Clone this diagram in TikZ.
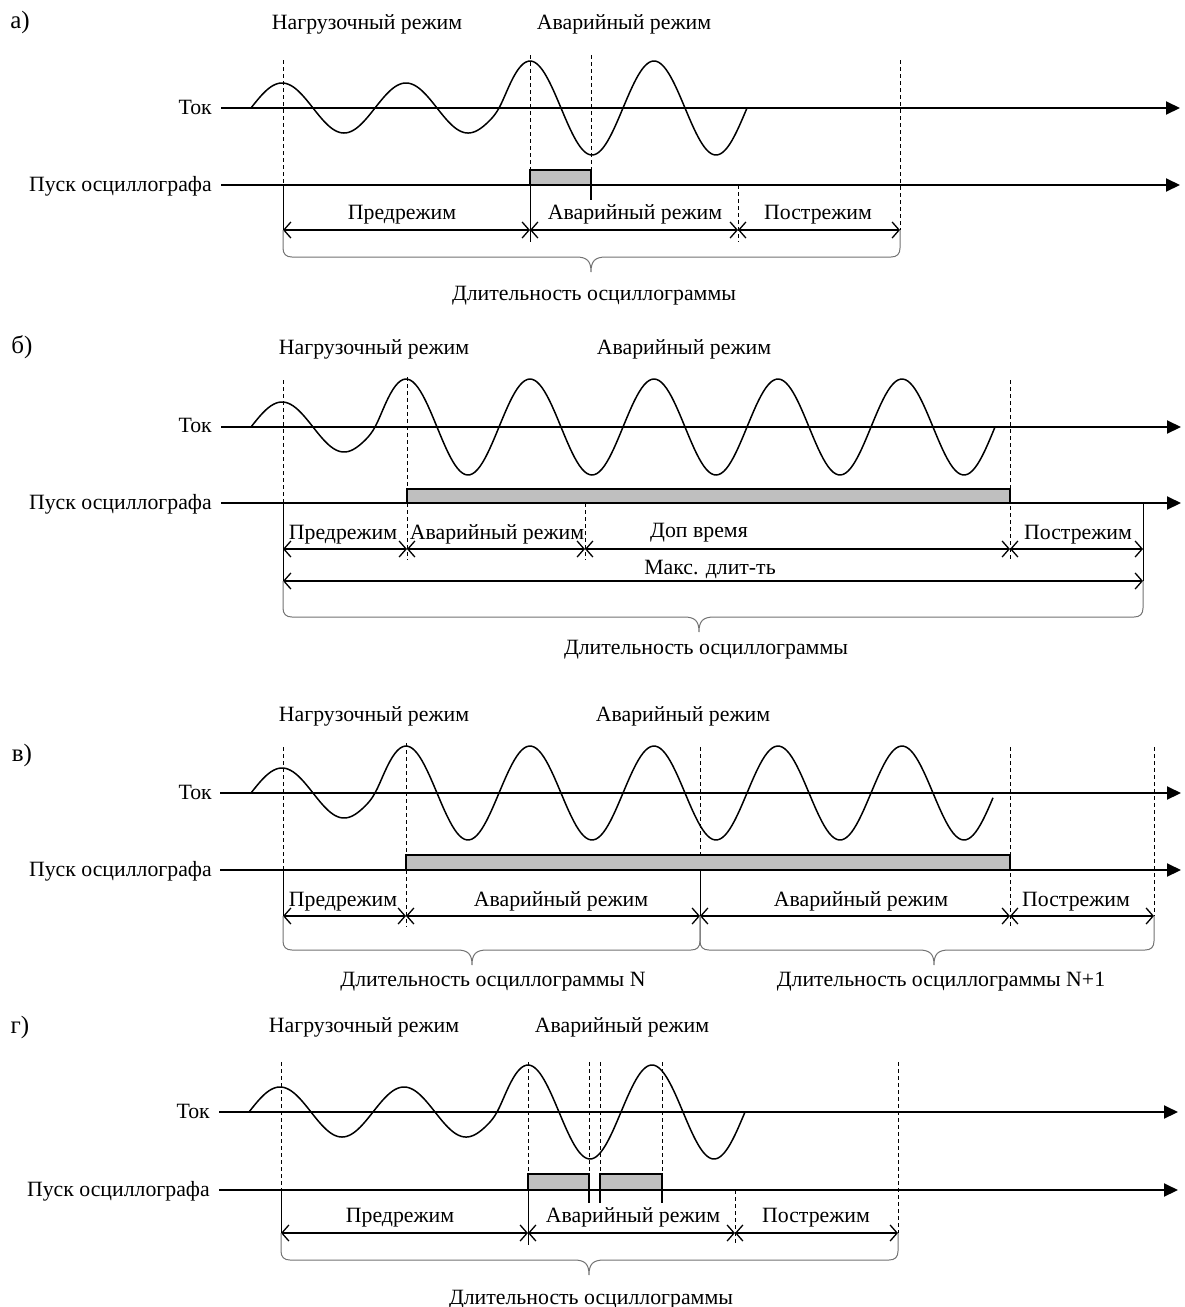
\documentclass[tikz,border=0pt]{standalone}
\usepackage{fontspec}
\setmainfont{Liberation Serif}
\usetikzlibrary{arrows.meta}
% start, end, phase origin, axis y, small amp, big amp, switch x
\newcommand{\mywave}[7]{\draw[wave] plot[domain=#1:#2, samples=300] (\x, {#4-(((#5)+(#6))/2+(((#6)-(#5))/2)*tanh(max(-4,min(4,(\x-#7)/9))))*sin((\x-#3)/62*180)});}
\newcommand{\mybrace}[5]{\draw[bracestyle] (#1,#4) -- (#1,#5-9) .. controls (#1,#5-3) and (#1+3,#5) .. (#1+9,#5) -- (#3-15,#5) .. controls (#3-4,#5) and (#3,#5+4) .. (#3,#5+15) .. controls (#3,#5+4) and (#3+4,#5) .. (#3+15,#5) -- (#2-9,#5) .. controls (#2-3,#5) and (#2,#5-3) .. (#2,#5-9) -- (#2,#4);}
\begin{document}
\begin{tikzpicture}[x=1pt,y=-1pt,
  lbl/.style={font=\fontsize{21.8}{25}\selectfont, inner sep=0pt, text height=18pt, text depth=3pt},
  plbl/.style={font=\fontsize{25}{28}\selectfont, inner sep=0pt, text height=19pt, text depth=3pt},
  axisline/.style={line width=2pt, -{Triangle[length=14pt,width=13pt]}},
  wave/.style={line width=1.5pt},
  guide/.style={dash pattern=on 4pt off 3pt, line width=0.8pt},
  stem/.style={line width=1pt},
  dimline/.style={line width=1.3pt, {Straight Barb[length=7pt,width=16pt]}-{Straight Barb[length=7pt,width=16pt]}},
  bracestyle/.style={line width=1pt, draw=black!55},
  trig/.style={fill=black!25, draw=black, line width=1.5pt},
  tickline/.style={line width=1.5pt}
]
\useasboundingbox[fill=white] (0,0) rectangle (1184,1307);

% ================= panel a =================
\node[plbl] (la) at (20,20) {а)};
\node[lbl] (aNag) at (367,22) {Нагрузочный режим};
\node[lbl] (aAv) at (624,22) {Аварийный режим};
\node[lbl, anchor=east] (aTok) at (212,107) {Ток};
\node[lbl, anchor=east] (aPusk) at (212,184) {Пуск осциллографа};
\draw[guide] (283,60) -- (283,185);
\draw[guide] (530,55) -- (530,185);
\draw[guide] (591,55) -- (591,170);
\draw[guide] (738,185) -- (738,242);
\draw[guide] (900,60) -- (900,230);
\draw[stem] (283,185) -- (283,230);
\draw[stem] (530,185) -- (530,242);
\draw[trig] (530,185) rectangle (591,170);
\draw[tickline] (591,185) -- (591,200);
\mywave{251}{747}{251}{108}{25}{47}{499}
\draw[axisline] (221,108) -- (1180,108);
\draw[axisline] (221,185) -- (1180,185);
\coordinate (a1) at (283,230); \coordinate (a2) at (530,230);
\coordinate (a3) at (738,230); \coordinate (a4) at (900,230);
\draw[dimline] (a1) -- (a2);
\draw[dimline] (a2) -- (a3);
\draw[dimline] (a3) -- (a4);
\node[lbl] (aPre) at (402,212) {Предрежим};
\node[lbl] (aAv2) at (635,212) {Аварийный режим};
\node[lbl] (aPost) at (818,212) {Пострежим};
\mybrace{283}{900}{591}{230}{257}
\node[lbl] (aDl) at (594,293) {Длительность осциллограммы};

% ================= panel b =================
\node[plbl] (lb) at (22,345) {б)};
\node[lbl] (bNag) at (374,347) {Нагрузочный режим};
\node[lbl] (bAv) at (684,347) {Аварийный режим};
\node[lbl, anchor=east] (bTok) at (212,425) {Ток};
\node[lbl, anchor=east] (bPusk) at (212,502) {Пуск осциллографа};
\draw[guide] (283,380) -- (283,503);
\draw[guide] (407,377) -- (407,489);
\draw[guide] (407,503) -- (407,560);
\draw[guide] (585,503) -- (585,560);
\draw[guide] (1010,380) -- (1010,560);
\draw[stem] (283,503) -- (283,581);
\draw[stem] (1143,503) -- (1143,581);
\draw[trig] (407,503) rectangle (1010,489);
\mywave{251}{995}{251}{427}{25}{48}{375}
\draw[axisline] (221,427) -- (1181,427);
\draw[axisline] (221,503) -- (1181,503);
\coordinate (b1) at (283,549); \coordinate (b2) at (407,549);
\coordinate (b3) at (585,549); \coordinate (b4) at (1010,549);
\coordinate (b5) at (1143,549);
\draw[dimline] (b1) -- (b2);
\draw[dimline] (b2) -- (b3);
\draw[dimline] (b3) -- (b4);
\draw[dimline] (b4) -- (b5);
\coordinate (b6) at (283,581); \coordinate (b7) at (1143,581);
\draw[dimline] (b6) -- (b7);
\node[lbl] (bPre) at (343,532) {Предрежим};
\node[lbl] (bAv2) at (497,532) {Аварийный режим};
\node[lbl] (bDop) at (699,530) {Доп время};
\node[lbl] (bPost) at (1078,532) {Пострежим};
\node[lbl] (bMax) at (710,567) {Макс. длит-ть};
\mybrace{283}{1143}{699}{581}{617}
\node[lbl] (bDl) at (706,647) {Длительность осциллограммы};

% ================= panel v =================
\node[plbl] (lv) at (22,753) {в)};
\node[lbl] (vNag) at (374,714) {Нагрузочный режим};
\node[lbl] (vAv) at (683,714) {Аварийный режим};
\node[lbl, anchor=east] (vTok) at (212,792) {Ток};
\node[lbl, anchor=east] (vPusk) at (212,869) {Пуск осциллографа};
\draw[guide] (283,747) -- (283,870);
\draw[guide] (406,743) -- (406,855);
\draw[guide] (406,870) -- (406,927);
\draw[guide] (700,747) -- (700,855);
\draw[guide] (1010,747) -- (1010,927);
\draw[guide] (1154,747) -- (1154,916);
\draw[stem] (283,870) -- (283,916);
\draw[stem] (700,870) -- (700,916);
\draw[trig] (406,870) rectangle (1010,855);
\mywave{251}{993}{251}{793}{25}{47}{375}
\draw[axisline] (220,793) -- (1181,793);
\draw[axisline] (220,870) -- (1181,870);
\coordinate (v1) at (283,916); \coordinate (v2) at (406,916);
\coordinate (v3) at (700,916); \coordinate (v4) at (1010,916);
\coordinate (v5) at (1154,916);
\draw[dimline] (v1) -- (v2);
\draw[dimline] (v2) -- (v3);
\draw[dimline] (v3) -- (v4);
\draw[dimline] (v4) -- (v5);
\node[lbl] (vPre) at (343,899) {Предрежим};
\node[lbl] (vAv2) at (561,899) {Аварийный режим};
\node[lbl] (vAv3) at (861,899) {Аварийный режим};
\node[lbl] (vPost) at (1076,899) {Пострежим};
\mybrace{283}{700}{472}{916}{950}
\mybrace{700}{1154}{934}{916}{950}
\node[lbl] (vDl1) at (493,979) {Длительность осциллограммы N};
\node[lbl] (vDl2) at (941,979) {Длительность осциллограммы N+1};

% ================= panel g =================
\node[plbl] (lg) at (20,1025) {г)};
\node[lbl] (gNag) at (364,1025) {Нагрузочный режим};
\node[lbl] (gAv) at (622,1025) {Аварийный режим};
\node[lbl, anchor=east] (gTok) at (210,1111) {Ток};
\node[lbl, anchor=east] (gPusk) at (210,1189) {Пуск осциллографа};
\draw[guide] (281,1062) -- (281,1190);
\draw[guide] (528,1062) -- (528,1190);
\draw[guide] (589,1062) -- (589,1174);
\draw[guide] (600,1062) -- (600,1174);
\draw[guide] (662,1062) -- (662,1174);
\draw[guide] (735,1190) -- (735,1245);
\draw[guide] (898,1062) -- (898,1233);
\draw[stem] (281,1190) -- (281,1233);
\draw[stem] (528,1190) -- (528,1245);
\draw[trig] (528,1190) rectangle (589,1174);
\draw[trig] (600,1190) rectangle (662,1174);
\draw[tickline] (589,1190) -- (589,1203);
\draw[tickline] (600,1190) -- (600,1203);
\draw[tickline] (662,1190) -- (662,1203);
\mywave{249}{745}{249}{1112}{25}{47}{497}
\draw[axisline] (219,1112) -- (1178,1112);
\draw[axisline] (219,1190) -- (1178,1190);
\coordinate (g1) at (281,1233); \coordinate (g2) at (528,1233);
\coordinate (g3) at (735,1233); \coordinate (g4) at (898,1233);
\draw[dimline] (g1) -- (g2);
\draw[dimline] (g2) -- (g3);
\draw[dimline] (g3) -- (g4);
\node[lbl] (gPre) at (400,1215) {Предрежим};
\node[lbl] (gAv2) at (633,1215) {Аварийный режим};
\node[lbl] (gPost) at (816,1215) {Пострежим};
\mybrace{281}{898}{589}{1233}{1260}
\node[lbl] (gDl) at (591,1297) {Длительность осциллограммы};
\end{tikzpicture}
\end{document}
